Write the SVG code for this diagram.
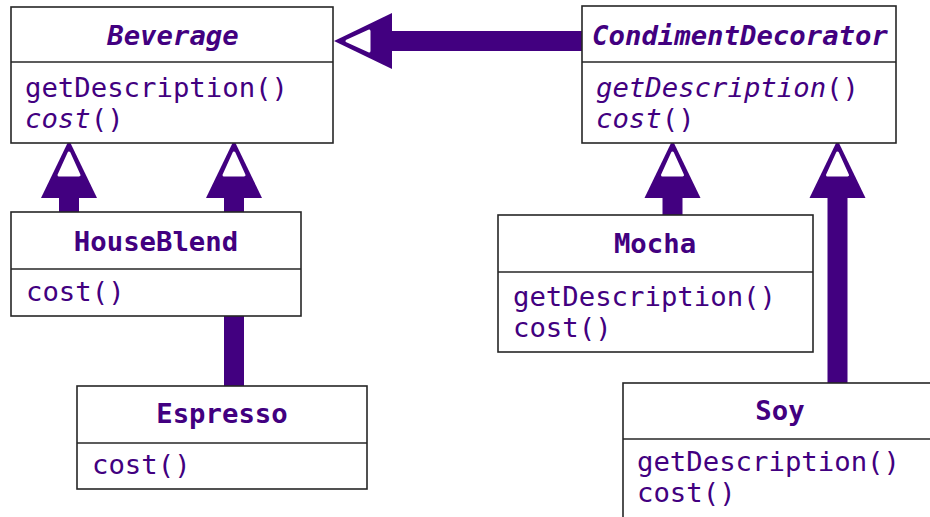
<svg xmlns="http://www.w3.org/2000/svg" width="930" height="517" viewBox="0 0 930 517">
  <style>
    .box { fill: #ffffff; stroke: #262626; stroke-width: 1.6; }
    .div { stroke: #262626; stroke-width: 1.6; }
    .title { font-family: "DejaVu Sans Mono", "Liberation Mono", monospace; font-size: 27.3px; font-weight: bold; fill: #420080; text-anchor: middle; }
    .abstract { font-style: italic; }
    .op { font-family: "DejaVu Sans Mono", "Liberation Mono", monospace; font-size: 27.3px; fill: #420080; }
    .it { font-style: italic; }
    .link { fill: none; stroke: #420080; stroke-width: 20; }
  </style>
  <defs>
    <!-- hollow generalization triangle; path ends at the base, tip 58px ahead -->
    <marker id="inherit" markerUnits="userSpaceOnUse" markerWidth="60" markerHeight="60" viewBox="0 -30 60 60" refX="0" refY="0" orient="auto" overflow="visible">
      <path d="M0,-28 L58,0 L0,28 Z" fill="#420080"/>
      <path d="M23,-10 L45,0 L23,10 Z" fill="#ffffff" stroke="#ffffff" stroke-width="3" stroke-linejoin="round"/>
    </marker>
  </defs>

  <g id="connectors">
    <path class="link" d="M582,41 L392,41" marker-end="url(#inherit)"/>
    <path class="link" d="M69,212 L69,198" marker-end="url(#inherit)"/>
    <path class="link" d="M234,386 L234,198" marker-end="url(#inherit)"/>
    <path class="link" d="M672.5,215 L672.5,198" marker-end="url(#inherit)"/>
    <path class="link" d="M837.5,383 L837.5,198" marker-end="url(#inherit)"/>
  </g>

  <g id="Beverage">
    <rect class="box" x="11" y="7" width="322" height="136"/>
    <line class="div" x1="11" y1="62" x2="333" y2="62"/>
    <text class="title abstract" x="173" y="45">Beverage</text>
    <text class="op" x="25" y="97">getDescription()</text>
    <text class="op" x="25" y="128"><tspan class="it">cost</tspan>()</text>
  </g>

  <g id="CondimentDecorator">
    <rect class="box" x="582" y="6" width="314" height="137"/>
    <line class="div" x1="582" y1="62" x2="896" y2="62"/>
    <text class="title abstract" x="740" y="45">CondimentDecorator</text>
    <text class="op" x="596" y="97"><tspan class="it">getDescription</tspan>()</text>
    <text class="op" x="596" y="128"><tspan class="it">cost</tspan>()</text>
  </g>

  <g id="HouseBlend">
    <rect class="box" x="11" y="212" width="290" height="104"/>
    <line class="div" x1="11" y1="269" x2="301" y2="269"/>
    <text class="title" x="156" y="251">HouseBlend</text>
    <text class="op" x="26" y="301">cost()</text>
  </g>

  <g id="Espresso">
    <rect class="box" x="77" y="386" width="290" height="103"/>
    <line class="div" x1="77" y1="443" x2="367" y2="443"/>
    <text class="title" x="222" y="423">Espresso</text>
    <text class="op" x="92" y="474">cost()</text>
  </g>

  <g id="Mocha">
    <rect class="box" x="498" y="215" width="315" height="137"/>
    <line class="div" x1="498" y1="272" x2="813" y2="272"/>
    <text class="title" x="655" y="253">Mocha</text>
    <text class="op" x="513" y="306">getDescription()</text>
    <text class="op" x="513" y="337">cost()</text>
  </g>

  <g id="Soy">
    <rect class="box" x="623" y="383" width="315" height="140"/>
    <line class="div" x1="623" y1="439" x2="938" y2="439"/>
    <text class="title" x="780" y="420">Soy</text>
    <text class="op" x="637" y="471">getDescription()</text>
    <text class="op" x="637" y="502">cost()</text>
  </g>
</svg>
